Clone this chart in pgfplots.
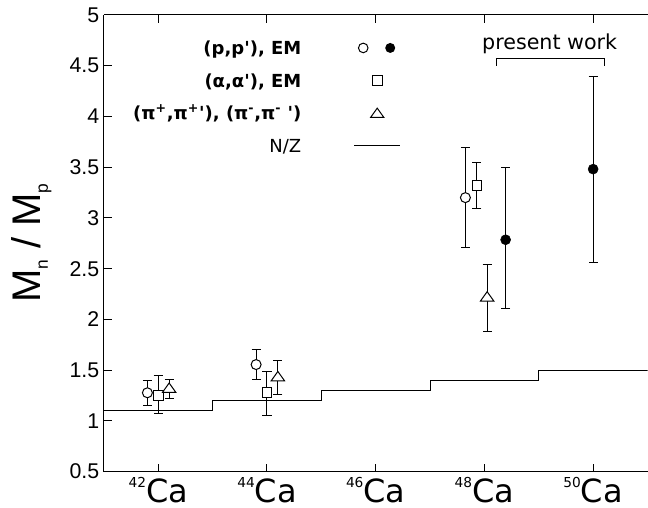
\documentclass[border=0pt]{standalone}
\usepackage{pgfplots}
\pgfplotsset{compat=1.18}
\usepackage{fontspec}
\setmainfont{DejaVu Sans}[Ligatures=TeXOff]
\newfontfamily\arialf{Liberation Sans}
\begin{document}
\begin{tikzpicture}
\begin{axis}[
  scale only axis,
  width=408pt, height=342.75pt,
  xmin=41, xmax=51, ymin=0.5, ymax=5,
  enlargelimits=false,
  axis x line=box, axis y line=left,
  axis line style={-, line width=0.75pt, black},
  tick align=inside,
  xtick pos=both, ytick pos=left,
  major tick length=6pt,
  every tick/.style={black, line width=0.75pt},
  xtick={42,44,46,48,50},
  xticklabels={
    {\raisebox{11.25pt}{\fontsize{10.3}{12}\selectfont 42}Ca},
    {\raisebox{11.25pt}{\fontsize{10.3}{12}\selectfont 44}Ca},
    {\raisebox{11.25pt}{\fontsize{10.3}{12}\selectfont 46}Ca},
    {\raisebox{11.25pt}{\fontsize{10.3}{12}\selectfont 48}Ca},
    {\raisebox{11.25pt}{\fontsize{10.3}{12}\selectfont 50}Ca}},
  xticklabel style={font=\fontsize{24}{28}\selectfont, anchor=base, yshift=-23.5pt, inner sep=0pt},
  ytick={0.5,1,...,5},
  /pgf/number format/assume math mode=true,
  yticklabel style={font=\arialf\fontsize{16}{19}\selectfont},
  ylabel={M\raisebox{-5.25pt}{\fontsize{13}{13}\selectfont n} / M\raisebox{-5.25pt}{\fontsize{13}{13}\selectfont p}},
  ylabel style={font=\arialf\fontsize{30}{36}\selectfont, at={(axis description cs:-0.1158,0.5)}, anchor=base, inner sep=0pt},
  legend plot pos=right,
  legend cell align=right,
  legend style={at={(axis cs:46.46,4.773)}, anchor=north east, draw=none, fill=none,
    inner sep=0pt, outer sep=0pt, row sep=9.6pt, column sep=0pt,
    nodes={inner sep=0pt, text height=12.4pt, text depth=2.5pt, font=\fontsize{13.5}{16}\selectfont}},
  error bars/error bar style={line width=0.75pt, black},
  error bars/error mark options={rotate=90, mark size=3.4pt, line width=0.75pt, black},
]
% legend entries
\addlegendimage{draw=none, fill=none, legend image code/.code={
  \path[draw=none] (0pt,0pt) -- (74.25pt,0pt);
  \draw[black, line width=0.75pt, fill=white] (46.5pt,0pt) circle[radius=3.6pt];
  \fill[black, draw=none] (66.75pt,0pt) circle[radius=3.75pt];}}
\addlegendentry{\bfseries (p,p'), EM}
\addlegendimage{draw=none, fill=none, legend image code/.code={
  \path[draw=none] (0pt,0pt) -- (74.25pt,0pt);
  \draw[black, line width=0.75pt] (53.4pt,-3.6pt) rectangle (60.6pt,3.6pt);}}
\addlegendentry{\bfseries (α,α'), EM}
\addlegendimage{draw=none, fill=none, legend image code/.code={
  \path[draw=none] (0pt,0pt) -- (74.25pt,0pt);
  \draw[black, line width=0.75pt] (57pt,3.8pt) -- (52pt,-3.2pt) -- (62pt,-3.2pt) -- cycle;}}
\addlegendentry{\bfseries (π\textsuperscript{+},π\textsuperscript{+}'), (π\textsuperscript{-},π\textsuperscript{-} ')}
\addlegendimage{draw=none, fill=none, legend image code/.code={
  \path[draw=none] (0pt,0pt) -- (39.75pt,0pt);
  \draw[black, line width=0.75pt] (39.75pt,0pt) -- (74.25pt,0pt);}}
\addlegendentry{N/Z}

% N/Z step line
\addplot[const plot, black, line width=0.75pt, forget plot] coordinates {
  (41,1.1) (43,1.2) (45,1.3) (47,1.4) (49,1.5) (51,1.5)};

% (p,p'), EM open circles
\addplot[only marks, mark=*, mark size=3.75pt, mark options={fill=white, draw=black, line width=0.75pt}, forget plot,
  error bars/.cd, y dir=both, y explicit] coordinates {
  (41.8,1.277) += (0,0.123) -= (0,0.125)
  (43.8,1.555) += (0,0.148) -= (0,0.147)
  (47.65,3.20) += (0,0.498) -= (0,0.496)
};
% (alpha,alpha') squares
\addplot[only marks, mark=square*, mark size=3.6pt, mark options={fill=white, draw=black, line width=0.75pt}, forget plot,
  error bars/.cd, y dir=both, y explicit] coordinates {
  (42.0,1.253) += (0,0.194) -= (0,0.180)
  (44.0,1.277) += (0,0.212) -= (0,0.221)
  (47.86,3.32) += (0,0.226) -= (0,0.230)
};
% pions triangles
\addplot[only marks, mark=triangle*, mark size=5.77pt, mark options={yscale=0.81, fill=white, draw=black, line width=0.75pt}, forget plot,
  error bars/.cd, y dir=both, y explicit] coordinates {
  (42.2,1.312) += (0,0.096) -= (0,0.094)
  (44.2,1.426) += (0,0.168) -= (0,0.166)
  (48.05,2.212) += (0,0.330) -= (0,0.328)
};
% present work filled circles
\addplot[only marks, mark=*, mark size=3.75pt, mark options={fill=black, draw=black}, forget plot,
  error bars/.cd, y dir=both, y explicit] coordinates {
  (48.39,2.785) += (0,0.712) -= (0,0.682)
  (50.0,3.481) += (0,0.912) -= (0,0.919)
};

% present work bracket
\draw[black, line width=0.75pt] (axis cs:48.22,4.498) |- (axis cs:50.21,4.567) -- (axis cs:50.21,4.498);
\node[font=\fontsize{15.5}{18}\selectfont, anchor=base] at (axis cs:49.2,4.655) {present work};
\end{axis}
\path (current axis.south west) ++(-78pt,-27pt) rectangle ([yshift=11.25pt]current axis.north east);
\end{tikzpicture}
\end{document}
